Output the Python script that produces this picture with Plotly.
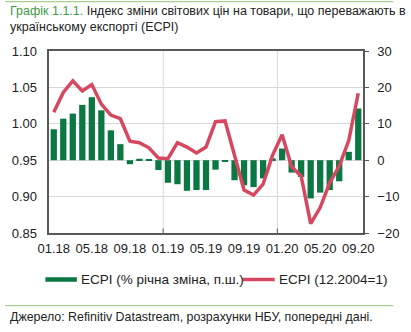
import plotly.graph_objects as go

months = ["01.18", "02.18", "03.18", "04.18", "05.18", "06.18", "07.18", "08.18", "09.18", "10.18", "11.18", "12.18",
          "01.19", "02.19", "03.19", "04.19", "05.19", "06.19", "07.19", "08.19", "09.19", "10.19", "11.19", "12.19",
          "01.20", "02.20", "03.20", "04.20", "05.20", "06.20", "07.20", "08.20", "09.20"]
ecpi_yoy = [8.5, 11.4, 12.8, 15.2, 17.3, 13.7, 8.2, 4.4, -1.1, 0.4, 0.2, -2.7,
            -6.2, -6.6, -8.4, -8.2, -8.2, -2.6, -0.4, -5.5, -6.9, -7.4, -5.0, 0.5,
            3.2, -3.4, -4.6, -10.5, -8.9, -8.2, -5.8, 2.3, 14.2]
ecpi_index = [1.016, 1.043, 1.059, 1.045, 1.054, 1.027, 1.012, 1.007, 0.976, 0.974, 0.967, 0.953,
              0.952, 0.974, 0.968, 0.960, 0.968, 1.003, 1.004, 0.955, 0.909, 0.902, 0.917, 0.957,
              0.985, 0.941, 0.928, 0.863, 0.885, 0.919, 0.942, 0.977, 1.042]
tick_labels = ["01.18", "05.18", "09.18", "01.19", "05.19", "09.19", "01.20", "05.20", "09.20"]
left_ticks = [0.85, 0.90, 0.95, 1.00, 1.05, 1.10]
right_ticks = [-20, -10, 0, 10, 20, 30]
legend_names = ["ECPI (% річна зміна, п.ш.)", "ECPI (12.2004=1)"]

x = list(range(len(months)))
tickvals = [months.index(t) for t in tick_labels]

GREEN = "#0b7742"
RED = "#d64860"
FONT = "Arial, Liberation Sans, sans-serif"
TXT = "#222222"

fig = go.Figure()
fig.add_trace(go.Bar(x=x, y=ecpi_yoy, yaxis="y", marker=dict(color=GREEN, line=dict(width=0)),
                     width=0.66, name=legend_names[0], showlegend=False))
fig.add_trace(go.Scatter(x=x, y=ecpi_index, yaxis="y2", mode="lines",
                         line=dict(color=RED, width=3.5), name=legend_names[1], showlegend=False))

W, H = 411, 332
L, R, T, B = 46.5, 32, 51, 99
pw, ph = W - L - R, H - T - B

def px(xp):
    return (xp - L) / pw

def py(yp):
    return (H - B - yp) / ph

shapes = []
for xv in [11.5, 23.5]:
    shapes.append(dict(type="line", xref="x", yref="paper", x0=xv, x1=xv, y0=0, y1=1,
                       line=dict(color="#d9d9d9", width=1), layer="below"))
    shapes.append(dict(type="line", xref="x", yref="paper", x0=xv, x1=xv, y0=0, y1=0.025,
                       line=dict(color="#595959", width=1)))
# legend swatches
shapes.append(dict(type="line", xref="paper", yref="paper", x0=px(42.7), x1=px(76), y0=py(279.5), y1=py(279.5),
                   line=dict(color=GREEN, width=4.5)))
shapes.append(dict(type="line", xref="paper", yref="paper", x0=px(251.7), x1=px(285.5), y0=py(279.5), y1=py(279.5),
                   line=dict(color=RED, width=3.5)))
# decorative separator lines
shapes.append(dict(type="line", xref="paper", yref="paper", x0=px(0), x1=px(411), y0=py(1.7), y1=py(1.7),
                   line=dict(color="#a8cf8c", width=1.2)))
shapes.append(dict(type="line", xref="paper", yref="paper", x0=px(0), x1=px(411), y0=py(305.7), y1=py(305.7),
                   line=dict(color="#a8cf8c", width=1.2)))

annotations = [
    dict(xref="paper", yref="paper", x=px(3), y=py(18.8), xanchor="left", yanchor="middle", showarrow=False,
         align="left",
         text="<span style='color:#3f9a45'>Графік 1.1.1.</span> Індекс зміни світових цін на товари, що переважають в"
              "<br>українському експорті (ECPI)",
         font=dict(family=FONT, size=12.5, color=TXT)),
    dict(xref="paper", yref="paper", x=px(78), y=py(279.5), xanchor="left", yanchor="middle", showarrow=False,
         text=legend_names[0], font=dict(family=FONT, size=13.5, color=TXT)),
    dict(xref="paper", yref="paper", x=px(288.3), y=py(279.5), xanchor="left", yanchor="middle", showarrow=False,
         text=legend_names[1], font=dict(family=FONT, size=13.5, color=TXT)),
    dict(xref="paper", yref="paper", x=px(3), y=py(316.7), xanchor="left", yanchor="middle", showarrow=False,
         text="Джерело: Refinitiv Datastream, розрахунки НБУ, попередні дані.",
         font=dict(family=FONT, size=12.4, color=TXT)),
]

fig.update_layout(
    width=W, height=H,
    margin=dict(l=L, r=R, t=T, b=B, pad=0),
    paper_bgcolor="white", plot_bgcolor="white",
    font=dict(family=FONT, size=13, color=TXT),
    bargap=0.3,
    xaxis=dict(range=[-0.5, len(months) - 0.5], tickvals=tickvals, ticktext=tick_labels,
               showgrid=False, zeroline=False, showline=True, mirror=True, linecolor="#595959",
               linewidth=1.5, ticks="", ticklabelstandoff=3, tickfont=dict(size=13, color=TXT)),
    yaxis=dict(side="right", range=[-20, 30], tickvals=right_ticks, showgrid=True, gridcolor="#d9d9d9",
               gridwidth=1, zeroline=False, showline=True, mirror=True, linecolor="#595959", linewidth=1.5,
               ticks="outside", ticklen=4, tickcolor="#595959", ticklabelstandoff=6,
               tickfont=dict(size=13, color=TXT)),
    yaxis2=dict(side="left", overlaying="y", range=[0.85, 1.10], tickvals=left_ticks,
                ticktext=[f"{v:.2f}" for v in left_ticks], showgrid=False, zeroline=False,
                showline=False, ticks="", ticklabelstandoff=11, tickfont=dict(size=13, color=TXT)),
    shapes=shapes,
    annotations=annotations,
    showlegend=False,
)

fig.write_html("out.html")
